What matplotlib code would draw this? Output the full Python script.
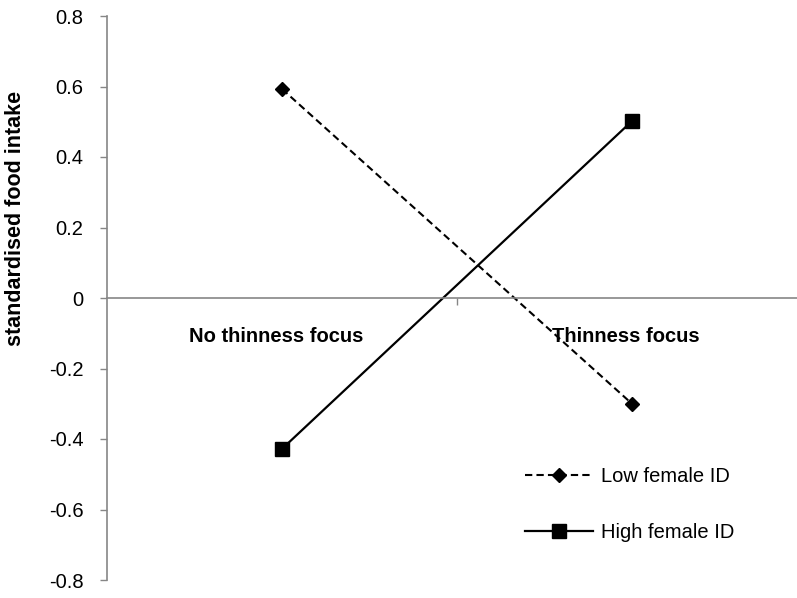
import matplotlib
matplotlib.use("Agg")
import matplotlib.pyplot as plt
from matplotlib.transforms import ScaledTranslation

plt.rcParams['font.family'] = ['Liberation Sans', 'DejaVu Sans']

# Data
conditions = ["No thinness focus", "Thinness focus"]
low_female_id = [0.593, -0.300]
high_female_id = [-0.428, 0.502]
y_ticks = [-0.8, -0.6, -0.4, -0.2, 0.0, 0.2, 0.4, 0.6, 0.8]
y_tick_labels = ["-0.8", "-0.6", "-0.4", "-0.2", "0", "0.2", "0.4", "0.6", "0.8"]

W, H = 797, 598
fig = plt.figure(figsize=(W / 100, H / 100), dpi=100)
ax = fig.add_axes([107 / W, 18 / H, 700 / W, 564 / H])

axis_grey = "#868686"
x = list(range(len(conditions)))

ax.plot(x, low_female_id, color="black", lw=1.5, dashes=(3.5, 2),
        marker="D", markersize=7.5, label="Low female ID", clip_on=False)
ax.plot(x, high_female_id, color="black", lw=1.6,
        marker="s", markersize=10.5, label="High female ID", clip_on=False)

ax.set_xlim(-0.5, 1.5)
ax.set_ylim(-0.8, 0.8)

# Spines: y axis on the left, category axis through zero
for s in ("top", "right"):
    ax.spines[s].set_visible(False)
ax.spines["left"].set_color(axis_grey)
ax.spines["left"].set_linewidth(1.2)
ax.spines["bottom"].set_position(("data", 0))
ax.spines["bottom"].set_color(axis_grey)
ax.spines["bottom"].set_linewidth(1.2)

ax.set_yticks(y_ticks)
ax.set_yticklabels(y_tick_labels, fontsize=14.5)
ax.tick_params(axis="y", direction="out", length=5, width=1.0, color=axis_grey, pad=12)

# Category labels below the zero line, divider tick between categories
ax.set_xticks(x)
ax.set_xticklabels(conditions, fontsize=14.5, fontweight="bold")
ax.tick_params(axis="x", which="major", length=0, pad=21)
shift = ScaledTranslation(-6 / 100, 0, fig.dpi_scale_trans)
for lbl in ax.get_xticklabels():
    lbl.set_transform(lbl.get_transform() + shift)
ax.set_xticks([0.5], minor=True)
ax.tick_params(axis="x", which="minor", direction="out", length=5, width=1.0, color=axis_grey)

fig.text(16 / W, 1 - 218 / H, "standardised food intake", rotation=90,
         fontsize=15.5, fontweight="bold", ha="center", va="center")

ax.legend(loc="upper left", bbox_to_anchor=(525 / W, 1 - 467 / H),
          bbox_transform=fig.transFigure, frameon=False, fontsize=14.5,
          handlelength=3.4, handletextpad=0.35, labelspacing=1.85, borderpad=0,
          borderaxespad=0)

fig.savefig("out.png", dpi=100)
